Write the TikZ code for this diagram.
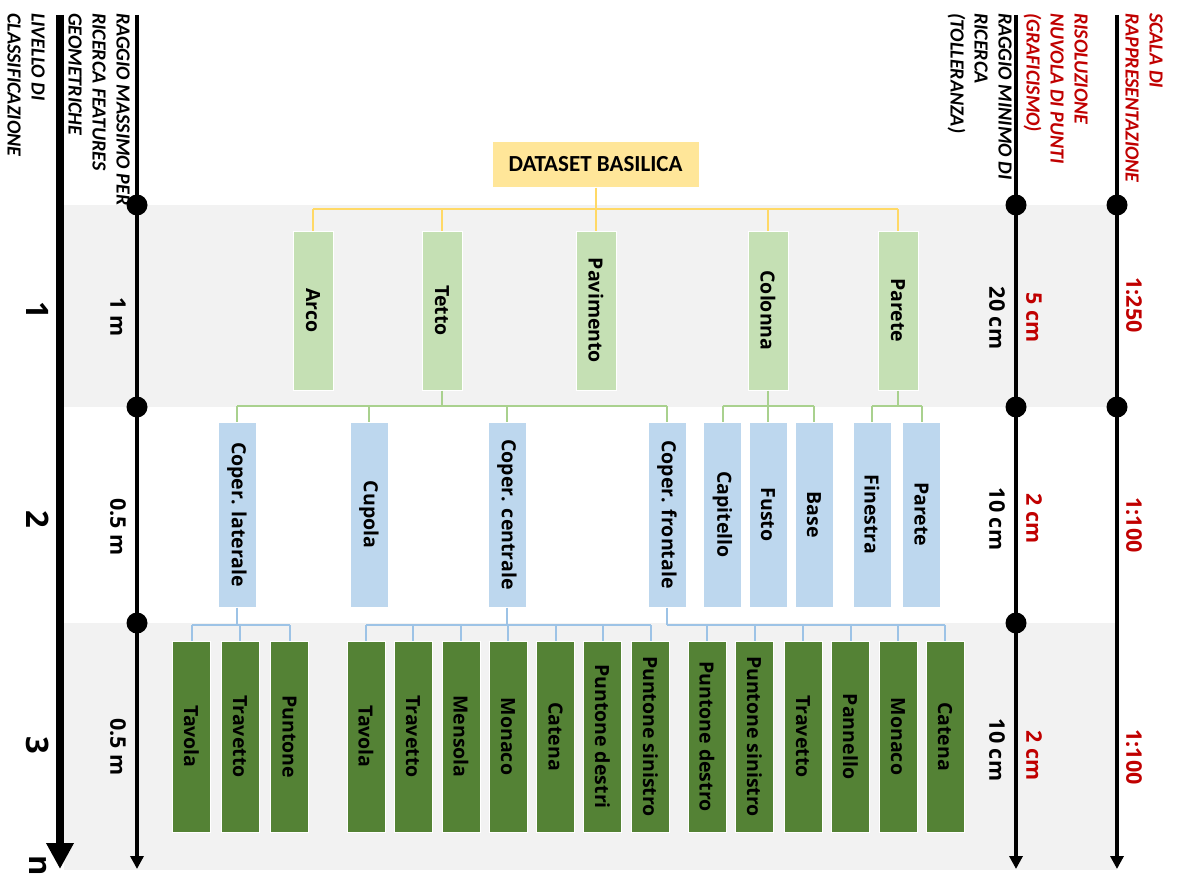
\documentclass[tikz,border=0pt]{standalone}
\usepackage{fontspec}
\setmainfont{Open Sans}
\newfontfamily\calib{Carlito}
\newfontfamily\bx{Open Sans}
\usetikzlibrary{arrows.meta}
\definecolor{gband}{HTML}{F2F2F2}
\definecolor{yel}{HTML}{FFE699}
\definecolor{yelline}{HTML}{FFD966}
\definecolor{lg}{HTML}{C5E0B4}
\definecolor{lgline}{HTML}{A9D18E}
\definecolor{lb}{HTML}{BDD7EE}
\definecolor{lbline}{HTML}{9DC3E6}
\definecolor{dg}{HTML}{548235}
\definecolor{dred}{HTML}{C00000}
\newcommand{\rt}[1]{\rotatebox{-90}{#1}}
\tikzset{
  box/.style={rectangle, draw=white, line width=1, inner sep=0, font=\bx\bfseries\fontsize{19.5}{23}\selectfont},
  lvA/.style={box, fill=lg, minimum width=40, minimum height=159},
  lvB/.style={box, fill=lb, minimum width=38, minimum height=185},
  lvC/.style={box, fill=dg, minimum width=38, minimum height=191},
  ttl/.style={rotate=-90, anchor=north west, align=left, inner sep=0, font=\calib\bfseries\itshape\fontsize{20}{24}\selectfont},
  val/.style={rotate=-90, inner sep=0, font=\bx\bfseries\fontsize{21.5}{25}\selectfont},
  lvl/.style={rotate=-90, inner sep=0, font=\bx\bfseries\fontsize{31}{35}\selectfont},
  thickax/.style={line width=8, -{Triangle[width=26,length=26]}},
  thinax/.style={line width=3.5, -{Triangle[width=13,length=13]}},
  ylw/.style={yelline, line width=2},
  grn/.style={lgline, line width=2},
  blu/.style={lbline, line width=2},
}
\begin{document}
\begin{tikzpicture}[x=1pt,y=-1pt]
\useasboundingbox (0,0) rectangle (1177,875);
% bands
\fill[gband] (64,205) rectangle (1117,407);
\fill[gband] (64,623) rectangle (1117,870);

% axes
\coordinate (a0s) at (60,15); \coordinate (a0e) at (60,869);
\coordinate (a1s) at (137,15); \coordinate (a1e) at (137,869);
\coordinate (a2s) at (1016,15); \coordinate (a2e) at (1016,869);
\coordinate (a3s) at (1117,15); \coordinate (a3e) at (1117,869);
\draw[thickax] (a0s) -- (a0e);
\draw[thinax] (a1s) -- (a1e);
\draw[thinax] (a2s) -- (a2e);
\draw[thinax] (a3s) -- (a3e);
\foreach \yy in {205,407,623}{
  \fill (137,\yy) circle (10.5);
  \fill (1016,\yy) circle (10.5);
}
\foreach \yy in {205,407}{\fill (1117,\yy) circle (10.5);}

% titles
\node[ttl] (tl1) at (130,13) {RAGGIO MASSIMO PER\\RICERCA FEATURES\\GEOMETRICHE};
\node[ttl] (tl2) at (45,13) {LIVELLO DI\\CLASSIFICAZIONE};
\node[ttl] (tr1) at (1012,13) {RAGGIO MINIMO DI\\RICERCA\\(TOLLERANZA)};
\node[ttl, text=dred] (tr2) at (1088,13) {RISOLUZIONE\\NUVOLA DI PUNTI\\(GRAFICISMO)};
\node[ttl, text=dred] (tr3) at (1163,13) {SCALA DI\\RAPPRESENTAZIONE};

% level numbers
\node[lvl] (n1) at (38,310) {1};
\node[lvl] (n2) at (38,519) {2};
\node[lvl] (n3) at (38,745) {3};
\node[lvl] (nn) at (38,866) {n};

% values
\node[val] (r1) at (118,317) {1 m};
\node[val] (r2) at (118,527) {0.5 m};
\node[val] (r3) at (118,747) {0.5 m};
\node[val] (m1) at (997,318) {20 cm};
\node[val] (m2) at (997,519) {10 cm};
\node[val] (m3) at (997,750) {10 cm};
\node[val, text=dred] (g1) at (1034,318) {5 cm};
\node[val, text=dred] (g2) at (1034,519) {2 cm};
\node[val, text=dred] (g3) at (1034,756) {2 cm};
\node[val, text=dred] (s1) at (1134,305) {1:250};
\node[val, text=dred] (s2) at (1134,525) {1:100};
\node[val, text=dred] (s3) at (1134,757) {1:100};

% root
\node[rectangle, fill=yel, draw=white, line width=1, minimum width=207, minimum height=46, inner sep=0,
  font=\calib\bfseries\fontsize{23}{27}\selectfont] (ds) at (595.5,164) {DATASET BASILICA};

% level 1
\node[lvA] (arco) at (313,310.5) {\rt{Arco}};
\node[lvA] (tetto) at (442,310.5) {\rt{Tetto}};
\node[lvA] (pav) at (596,310.5) {\rt{Pavimento}};
\node[lvA] (col) at (768,310.5) {\rt{Colonna}};
\node[lvA] (par) at (898,310.5) {\rt{Parete}};

% level 2
\node[lvB] (clat) at (237,514.5) {\rt{Coper. laterale}};
\node[lvB] (cup) at (369,514.5) {\rt{Cupola}};
\node[lvB] (ccen) at (507,514.5) {\rt{Coper. centrale}};
\node[lvB] (cfro) at (667,514.5) {\rt{Coper. frontale}};
\node[lvB] (cap) at (722.5,514.5) {\rt{Capitello}};
\node[lvB] (fus) at (768,514.5) {\rt{Fusto}};
\node[lvB] (bas) at (814,514.5) {\rt{Base}};
\node[lvB] (fin) at (872,514.5) {\rt{Finestra}};
\node[lvB] (par2) at (921.5,514.5) {\rt{Parete}};

% level 3
\node[lvC] (a1) at (191.5,736.5) {\rt{Tavola}};
\node[lvC] (a2) at (240,736.5) {\rt{Travetto}};
\node[lvC] (a3) at (289.5,736.5) {\rt{Puntone}};
\node[lvC] (b1) at (366,736.5) {\rt{Tavola}};
\node[lvC] (b2) at (413,736.5) {\rt{Travetto}};
\node[lvC] (b3) at (461,736.5) {\rt{Mensola}};
\node[lvC] (b4) at (508,736.5) {\rt{Monaco}};
\node[lvC] (b5) at (555.5,736.5) {\rt{Catena}};
\node[lvC] (b6) at (602.5,736.5) {\rt{Puntone destri}};
\node[lvC] (b7) at (650.5,736.5) {\rt{Puntone sinistro}};
\node[lvC] (c1) at (707,736.5) {\rt{Puntone destro}};
\node[lvC] (c2) at (754.5,736.5) {\rt{Puntone sinistro}};
\node[lvC] (c3) at (803,736.5) {\rt{Travetto}};
\node[lvC] (c4) at (850.5,736.5) {\rt{Pannello}};
\node[lvC] (c5) at (898,736.5) {\rt{Monaco}};
\node[lvC] (c6) at (945,736.5) {\rt{Catena}};

% connectors
\coordinate (busY) at (0,209);
\coordinate (busG) at (0,406);
\coordinate (busB) at (0,625);
\draw[ylw] (ds.south) -- (ds.south |- busY);
\draw[ylw] (arco.north |- busY) -- (par.north |- busY);
\foreach \n in {arco,tetto,pav,col,par}{\draw[ylw] (\n.north) -- (\n.north |- busY);}

\draw[grn] (tetto.south) -- (tetto.south |- busG);
\draw[grn] (clat.north |- busG) -- (cfro.north |- busG);
\foreach \n in {clat,cup,ccen,cfro}{\draw[grn] (\n.north) -- (\n.north |- busG);}
\draw[grn] (col.south) -- (col.south |- busG);
\draw[grn] (cap.north |- busG) -- (bas.north |- busG);
\foreach \n in {cap,fus,bas}{\draw[grn] (\n.north) -- (\n.north |- busG);}
\draw[grn] (par.south) -- (par.south |- busG);
\draw[grn] (fin.north |- busG) -- (par2.north |- busG);
\foreach \n in {fin,par2}{\draw[grn] (\n.north) -- (\n.north |- busG);}

\draw[blu] (clat.south) -- (clat.south |- busB);
\draw[blu] (a1.north |- busB) -- (a3.north |- busB);
\foreach \n in {a1,a2,a3}{\draw[blu] (\n.north) -- (\n.north |- busB);}
\draw[blu] (ccen.south) -- (ccen.south |- busB);
\draw[blu] (b1.north |- busB) -- (b7.north |- busB);
\foreach \n in {b1,b2,b3,b4,b5,b6,b7}{\draw[blu] (\n.north) -- (\n.north |- busB);}
\draw[blu] (cfro.south) -- (cfro.south |- busB);
\draw[blu] (cfro.south |- busB) -- (c6.north |- busB);
\foreach \n in {c1,c2,c3,c4,c5,c6}{\draw[blu] (\n.north) -- (\n.north |- busB);}
\end{tikzpicture}
\end{document}
